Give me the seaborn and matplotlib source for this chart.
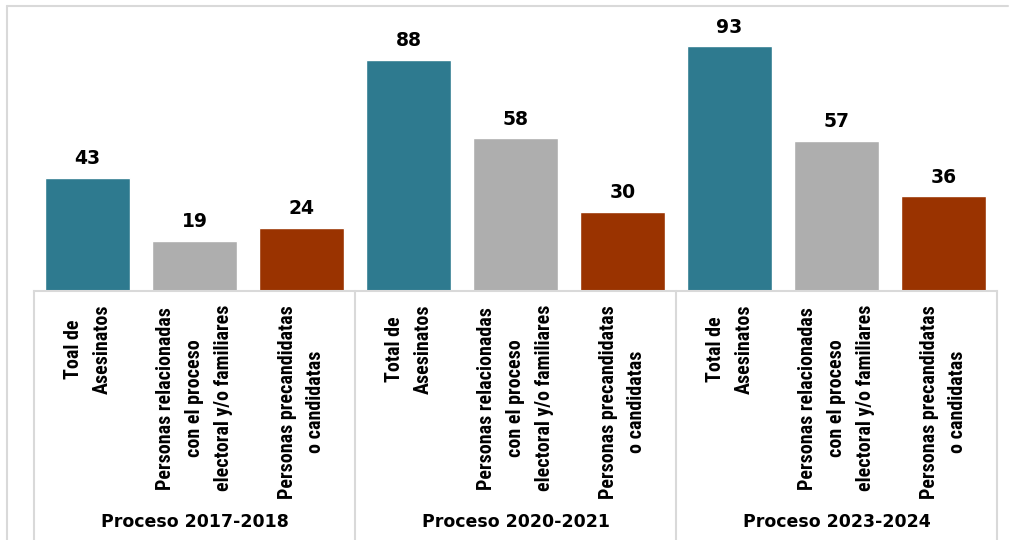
"""Asesinatos por proceso electoral: barras agrupadas con eje tipo tabla."""

import matplotlib
matplotlib.use("Agg")
import matplotlib.pyplot as plt
import matplotlib.transforms as mtransforms
from matplotlib import font_manager
from matplotlib.lines import Line2D
import pandas as pd
import seaborn as sns

procesos = ["Proceso 2017-2018", "Proceso 2020-2021", "Proceso 2023-2024"]
categorias = ["total", "relacionadas", "candidatas"]
etiquetas = [
    "Toal de\nAsesinatos",
    "Personas relacionadas\ncon el proceso\nelectoral y/o familiares",
    "Personas precandidatas\no candidatas",
    "Total de\nAsesinatos",
    "Personas relacionadas\ncon el proceso\nelectoral y/o familiares",
    "Personas precandidatas\no candidatas",
    "Total de\nAsesinatos",
    "Personas relacionadas\ncon el proceso\nelectoral y/o familiares",
    "Personas precandidatas\no candidatas",
]
valores_2017 = [43, 19, 24]
valores_2020 = [88, 58, 30]
valores_2023 = [93, 57, 36]
colores = {"total": "#2E7A8F", "relacionadas": "#AEAEAE", "candidatas": "#9A3300"}

rows = []
for proc, vals in zip(procesos, [valores_2017, valores_2020, valores_2023]):
    for cat, v in zip(categorias, vals):
        rows.append({"proceso": proc, "categoria": cat, "valor": v})
df = pd.DataFrame(rows)
df["clave"] = [f"{i}" for i in range(len(df))]

sns.set_theme(style="white")
plt.rcParams["font.family"] = ["DejaVu Sans"]

# narrow font for the rotated category labels, if any is installed
installed = {f.name for f in font_manager.fontManager.ttflist}
narrow = next((f for f in ["Liberation Sans Narrow", "DejaVu Sans Condensed", "Roboto Condensed",
                           "Liberation Sans"] if f in installed), "DejaVu Sans")

W, H = 1010, 540
fig = plt.figure(figsize=(W / 100, H / 100), dpi=100)
ax_left, ax_right, ax_bottom, ax_top = 34, 997, 291, 28
ax = fig.add_axes([ax_left / W, (H - ax_bottom) / H, (ax_right - ax_left) / W, (ax_bottom - ax_top) / H])

sns.barplot(data=df, x="clave", y="valor", hue="categoria", palette=colores,
            dodge=False, legend=False, width=0.8, saturation=1, ax=ax)

ax.set_xlim(-0.5, len(df) - 0.5)
ax.set_ylim(0, 100)
ax.set_yticks([])
ax.set_xlabel("")
ax.set_ylabel("")
for side in ["top", "left", "right"]:
    ax.spines[side].set_visible(False)
ax.spines["bottom"].set_color("#d9d9d9")
ax.spines["bottom"].set_linewidth(1.5)

for cont in ax.containers:
    ax.bar_label(cont, padding=7, fontsize=13.5, fontweight="bold", color="#000000")

# size the label font so that "Personas relacionadas" spans about 182 px
renderer = fig.canvas.get_renderer()
probe = fig.text(0, 0, "Personas relacionadas", fontsize=10, fontweight="bold", family=narrow)
probe_w = probe.get_window_extent(renderer).width
probe.remove()
label_size = 10 * 182 / probe_w

ax.set_xticks(range(len(df)))
ax.set_xticklabels(etiquetas, rotation=90, va="top", ha="center", multialignment="center",
                   fontsize=label_size, fontweight="bold", linespacing=1.65,
                   family=narrow, color="#000000")
ax.tick_params(axis="x", length=0, pad=10)

trans = mtransforms.blended_transform_factory(ax.transData, ax.transAxes)
for xb in [-0.5, 2.5, 5.5, 8.5]:
    ax.plot([xb, xb], [0, -1.1], transform=trans, color="#d9d9d9", lw=1.5, clip_on=False)

for i, proc in enumerate(procesos):
    ax.text(i * 3 + 1, (ax_bottom - 522) / (ax_bottom - ax_top), proc, transform=trans,
            ha="center", va="center", fontsize=12.5, fontweight="bold", color="#000000")

fig.add_artist(Line2D([7 / W, 7 / W], [0, (H - 6) / H], color="#d9d9d9", lw=1.5))
fig.add_artist(Line2D([7 / W, 1008 / W], [(H - 6) / H, (H - 6) / H], color="#d9d9d9", lw=1.5))

fig.savefig("out.png", dpi=100, facecolor="white")
plt.close(fig)
